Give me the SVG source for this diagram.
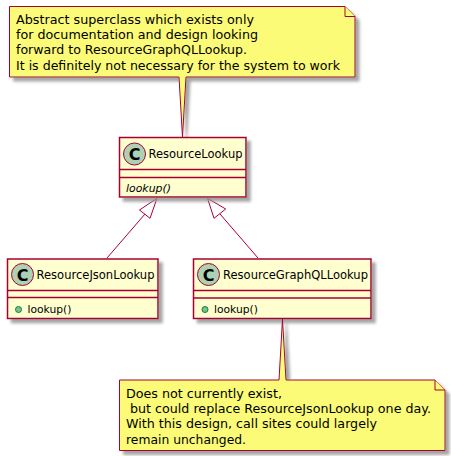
<svg xmlns="http://www.w3.org/2000/svg" width="451" height="456" viewBox="0 0 451 456">
<style>
text{font-family:"DejaVu Sans",sans-serif;fill:#000}
.t{font-size:12.5px}
.n{font-size:12.5px}
.m{font-size:11px}
.box{fill:#FEFECE;stroke:#A80036;stroke-width:1.5}
.note{fill:#FBFB77;stroke:#A80036;stroke-width:1}
.div{stroke:#A80036;stroke-width:1.5;fill:none}
.edge{stroke:#A80036;stroke-width:1;fill:none}
.head{stroke:#A80036;stroke-width:1;fill:#fff}
.c{fill:#ADD1B2;stroke:#A80036;stroke-width:1}
.cl{font-size:16px;font-weight:700;text-anchor:middle}
.dot{fill:#84BE84;stroke:#038048;stroke-width:1}
.sh{filter:url(#s)}
</style>
<defs>
<filter id="s" filterUnits="userSpaceOnUse" x="0" y="0" width="451" height="456">
<feGaussianBlur in="SourceAlpha" stdDeviation="1.7" result="b"/>
<feOffset in="b" dx="4" dy="4" result="o"/>
<feColorMatrix in="o" type="matrix" values="0 0 0 0 0.3 0 0 0 0 0.3 0 0 0 0 0.3 0 0 0 0.85 0" result="c"/>
<feMerge><feMergeNode in="c"/><feMergeNode in="SourceGraphic"/></feMerge>
</filter>
</defs>
<g id="connectors">
<path class="edge" d="M145,214 L107,258"/>
<path class="edge" d="M220,214 L258,258"/>
<path class="head" d="M157,198.3 L139.5,210 L150,218.3 Z"/>
<path class="head" d="M207.5,198.3 L214,218.3 L225.7,209 Z"/>
</g>
<g id="note1">
<path class="note sh" d="M9.5,6.5 L345,6.5 L355,16.5 L355,77 L186,77 L182.5,137 L179,77 L9.5,77 Z"/>
<path class="note" d="M345,6.5 L345,16.5 L355,16.5"/>
<text class="n" x="16" y="24" textLength="238" lengthAdjust="spacingAndGlyphs">Abstract superclass which exists only</text>
<text class="n" x="16" y="39" textLength="242" lengthAdjust="spacingAndGlyphs">for documentation and design looking</text>
<text class="n" x="16" y="54" textLength="231" lengthAdjust="spacingAndGlyphs">forward to ResourceGraphQLLookup.</text>
<text class="n" x="16" y="70" textLength="324" lengthAdjust="spacingAndGlyphs">It is definitely not necessary for the system to work</text>
</g>
<g id="ResourceLookup">
<rect class="box sh" x="119.5" y="137.5" width="126.5" height="59.5"/>
<path class="div" d="M119.5,169.5 H246 M119.5,177.5 H246"/>
<circle class="c" cx="134.5" cy="154" r="11"/>
<text class="cl" x="134.5" y="160">C</text>
<text class="t" x="148.5" y="158" textLength="94" lengthAdjust="spacingAndGlyphs">ResourceLookup</text>
<text class="m" x="126" y="192" font-style="italic" textLength="45" lengthAdjust="spacingAndGlyphs">lookup()</text>
</g>
<g id="ResourceJsonLookup">
<rect class="box sh" x="7.5" y="259" width="150.5" height="59.5"/>
<path class="div" d="M7.5,290.5 H158 M7.5,297.5 H158"/>
<circle class="c" cx="22.5" cy="274.5" r="11"/>
<text class="cl" x="22.5" y="280.5">C</text>
<text class="t" x="36.5" y="279" textLength="118" lengthAdjust="spacingAndGlyphs">ResourceJsonLookup</text>
<circle class="dot" cx="18.5" cy="309.5" r="3"/>
<text class="m" x="27.5" y="313" textLength="44" lengthAdjust="spacingAndGlyphs">lookup()</text>
</g>
<g id="ResourceGraphQLLookup">
<rect class="box sh" x="193.5" y="259" width="177.5" height="59.5"/>
<path class="div" d="M193.5,290.5 H371 M193.5,298 H371"/>
<circle class="c" cx="208.5" cy="274.5" r="11"/>
<text class="cl" x="208.5" y="280.5">C</text>
<text class="t" x="223" y="279" textLength="145" lengthAdjust="spacingAndGlyphs">ResourceGraphQLLookup</text>
<circle class="dot" cx="205" cy="309.5" r="3"/>
<text class="m" x="214" y="313" textLength="44" lengthAdjust="spacingAndGlyphs">lookup()</text>
</g>
<g id="note2">
<path class="note sh" d="M119.5,380 L279,380 L282.5,319 L286,380 L435,380 L445,390 L445,450.5 L119.5,450.5 Z"/>
<path class="note" d="M435,380 L435,390 L445,390"/>
<text class="n" x="126" y="398" textLength="156" lengthAdjust="spacingAndGlyphs">Does not currently exist,</text>
<text class="n" x="130" y="413" textLength="301" lengthAdjust="spacingAndGlyphs">but could replace ResourceJsonLookup one day.</text>
<text class="n" x="126" y="428" textLength="251" lengthAdjust="spacingAndGlyphs">With this design, call sites could largely</text>
<text class="n" x="126" y="444" textLength="120" lengthAdjust="spacingAndGlyphs">remain unchanged.</text>
</g>
</svg>
